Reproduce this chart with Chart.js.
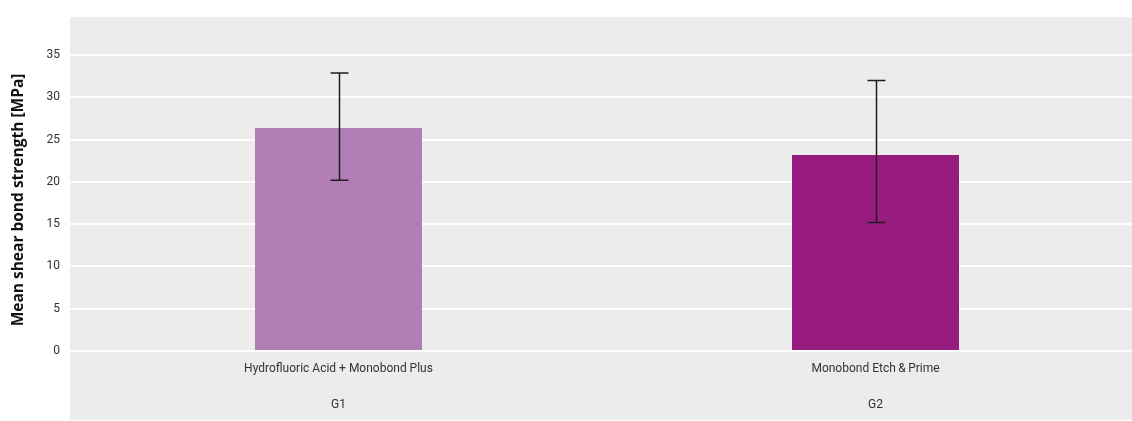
<!DOCTYPE html>
<html>
<head>
<meta charset="utf-8">
<script src="https://cdn.jsdelivr.net/npm/chart.js@4"></script>
<style>
  html, body { margin: 0; padding: 0; background: #fff; overflow: hidden; }
  #wrap { width: 1132px; height: 421px; overflow: hidden; }
  #chart { display: block; }
</style>
</head>
<body>
<div id="wrap"><canvas id="chart" width="1144" height="421"></canvas></div>
<script>
// Data
const groupNames = ['Hydrofluoric Acid + Monobond Plus', 'Monobond Etch\u2009&\u2009Prime'];
const groupCodes = ['G1', 'G2'];
const meanStrength = [26.4, 23.2];
const errLow = [20.2, 15.2];
const errHigh = [32.9, 32.0];
const barColors = ['#b07db5', '#981c7f'];
const yTicks = [0, 5, 10, 15, 20, 25, 30, 35];
const yTitle = 'Mean shear bond strength [MPa]';

// Gray panel behind plot and category labels
const panelBg = {
  id: 'panelBg',
  beforeDraw(chart) {
    const { ctx, chartArea } = chart;
    ctx.save();
    ctx.fillStyle = '#ececec';
    ctx.fillRect(chartArea.left, chartArea.top, chart.width - chartArea.left, chart.height - 1 - chartArea.top);
    ctx.restore();
  }
};

// Y axis title, placed like the original (a bit below the plot centre)
const axisTitle = {
  id: 'axisTitle',
  afterDraw(chart) {
    const { ctx } = chart;
    ctx.save();
    ctx.translate(19, 200);
    ctx.rotate(-Math.PI / 2);
    ctx.fillStyle = '#111';
    ctx.font = 'bold 15.5px "Open Sans"';
    ctx.textAlign = 'center';
    ctx.textBaseline = 'middle';
    ctx.fillText(yTitle, 0, 0);
    ctx.restore();
  }
};

// Error bars
const errorBars = {
  id: 'errorBars',
  afterDatasetsDraw(chart) {
    const { ctx } = chart;
    const y = chart.scales.y;
    const meta = chart.getDatasetMeta(0);
    ctx.save();
    ctx.strokeStyle = '#1e1e1e';
    ctx.lineWidth = 1.5;
    meta.data.forEach((bar, i) => {
      const x = Math.round(bar.x) + 0.5;
      const top = y.getPixelForValue(errHigh[i]);
      const bot = y.getPixelForValue(errLow[i]);
      ctx.beginPath();
      ctx.moveTo(x, top);
      ctx.lineTo(x, bot);
      ctx.moveTo(x - 9, top);
      ctx.lineTo(x + 9, top);
      ctx.moveTo(x - 9, bot);
      ctx.lineTo(x + 9, bot);
      ctx.stroke();
    });
    ctx.restore();
  }
};

new Chart(document.getElementById('chart'), {
  type: 'bar',
  data: {
    labels: groupNames.map((n, i) => [n, '', groupCodes[i]]),
    datasets: [{
      data: meanStrength,
      backgroundColor: barColors,
      borderWidth: 0,
      categoryPercentage: 1,
      barPercentage: 0.311
    }]
  },
  options: {
    responsive: false,
    animation: false,
    devicePixelRatio: 1,
    layout: { padding: { top: 14, left: 0, right: 0, bottom: 0 } },
    plugins: {
      legend: { display: false },
      tooltip: { enabled: false }
    },
    scales: {
      x: {
        grid: { display: false, drawTicks: false },
        border: { display: false },
        ticks: {
          color: '#333',
          padding: 9,
          font: { family: 'Roboto', size: 12, lineHeight: 1.5 },
          maxRotation: 0
        },
        afterFit(scale) { scale.height = 70; }
      },
      y: {
        min: 0,
        max: 39.5,
        afterBuildTicks(scale) { scale.ticks = yTicks.map(v => ({ value: v })); },
        grid: { color: '#ffffff', lineWidth: 2, drawTicks: false },
        border: { display: false },
        ticks: {
          color: '#333',
          padding: 10,
          font: { family: 'Roboto', size: 12 }
        },
        afterFit(scale) { scale.width = 70; }
      }
    }
  },
  plugins: [panelBg, axisTitle, errorBars]
});
</script>
</body>
</html>
